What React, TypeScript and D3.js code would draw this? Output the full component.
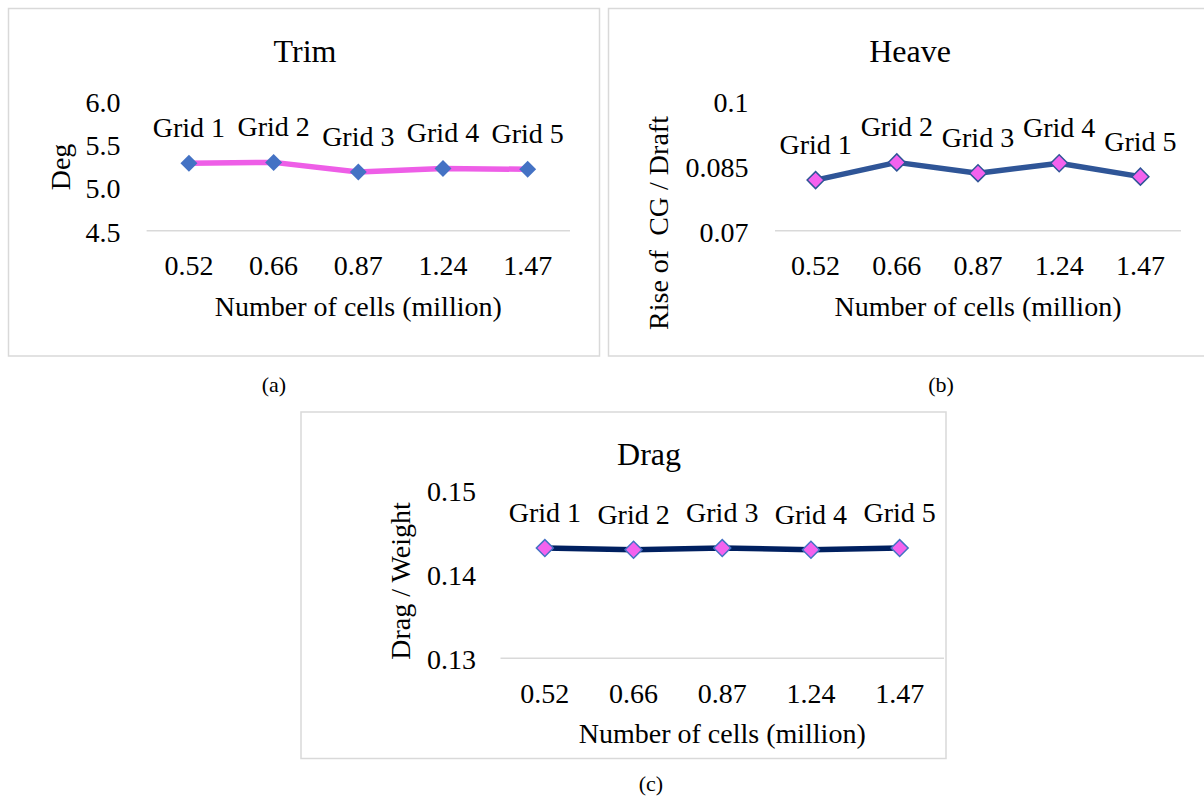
import React from "react";
import * as d3 from "d3";

// grid study values
const cells = ["0.52", "0.66", "0.87", "1.24", "1.47"];
const gridNames = ["Grid 1", "Grid 2", "Grid 3", "Grid 4", "Grid 5"];

const trimDeg = [5.28, 5.29, 5.18, 5.22, 5.21];
const heaveRise = [0.0817, 0.0858, 0.0833, 0.0856, 0.0825];
const dragWeight = [0.1431, 0.1429, 0.1431, 0.1429, 0.1431];

const trimTicks = [4.5, 5.0, 5.5, 6.0];
const heaveTicks = [0.07, 0.085, 0.1];
const dragTicks = [0.13, 0.14, 0.15];

const FONT = "'Liberation Serif', 'Times New Roman', serif";

type PanelProps = {
  box: [number, number, number, number];
  plot: { x0: number; x1: number; yTop: number; yBottom: number };
  domain: [number, number];
  ticks: number[];
  fmt: (v: number) => string;
  values: number[];
  title: string;
  titleX: number;
  titleY: number;
  yTitle: string;
  yTitleX: number;
  yTitleY: number;
  tickRight: number;
  xTickY: number;
  xTitleY: number;
  lineColor: string;
  markerFill: string;
  markerStroke: string;
};

const Panel = (p: PanelProps) => {
  const x = d3
    .scaleBand<string>()
    .domain(cells)
    .range([p.plot.x0, p.plot.x1]);
  const y = d3.scaleLinear().domain(p.domain).range([p.plot.yBottom, p.plot.yTop]);
  const cx = (i: number) => (x(cells[i]) as number) + x.bandwidth() / 2;

  const line = d3
    .line<number>()
    .x((_, i) => cx(i))
    .y((d) => y(d));

  const diamond = d3.symbol().type(d3.symbolSquare).size(144)();

  return (
    <g fontFamily={FONT} fill="#000">
      <rect
        x={p.box[0]}
        y={p.box[1]}
        width={p.box[2] - p.box[0]}
        height={p.box[3] - p.box[1]}
        fill="#fff"
        stroke="#d9d9d9"
        strokeWidth={1.5}
      />
      <text x={p.titleX} y={p.titleY} fontSize={32} textAnchor="middle">
        {p.title}
      </text>

      {/* horizontal axis line at the bottom of the value range */}
      <line
        x1={p.plot.x0}
        x2={p.plot.x1}
        y1={y(p.domain[0])}
        y2={y(p.domain[0])}
        stroke="#d9d9d9"
        strokeWidth={1.5}
      />

      {p.ticks.map((t) => (
        <text key={t} x={p.tickRight} y={y(t) + 11} fontSize={28} textAnchor="end">
          {p.fmt(t)}
        </text>
      ))}

      {cells.map((c, i) => (
        <text key={c} x={cx(i)} y={p.xTickY} fontSize={28} textAnchor="middle">
          {c}
        </text>
      ))}

      <text
        x={(p.plot.x0 + p.plot.x1) / 2}
        y={p.xTitleY}
        fontSize={28}
        textAnchor="middle"
      >
        Number of cells (million)
      </text>

      <text
        transform={`translate(${p.yTitleX},${p.yTitleY}) rotate(-90)`}
        fontSize={28}
        textAnchor="middle"
        style={{ whiteSpace: "pre" }}
      >
        {p.yTitle}
      </text>

      <path
        d={line(p.values) || ""}
        fill="none"
        stroke={p.lineColor}
        strokeWidth={5.5}
        strokeLinejoin="round"
      />

      {p.values.map((v, i) => (
        <path
          key={i}
          d={diamond || ""}
          transform={`translate(${cx(i)},${y(v)}) rotate(45)`}
          fill={p.markerFill}
          stroke={p.markerStroke}
          strokeWidth={p.markerStroke === "none" ? 0 : 1.5}
        />
      ))}

      {p.values.map((v, i) => (
        <text key={i} x={cx(i)} y={y(v) - 26} fontSize={28} textAnchor="middle">
          {gridNames[i]}
        </text>
      ))}
    </g>
  );
};

export default function App() {
  return (
    <svg
      width={1204}
      height={796}
      style={{ position: "absolute", left: 0, top: 0, background: "#fff" }}
    >
      <Panel
        box={[8.5, 8.5, 599.5, 356]}
        plot={{ x0: 146.6, x1: 570, yTop: 101, yBottom: 230.7 }}
        domain={[4.5, 6.0]}
        ticks={trimTicks}
        fmt={d3.format(".1f")}
        values={trimDeg}
        title="Trim"
        titleX={305}
        titleY={62}
        yTitle="Deg"
        yTitleX={70}
        yTitleY={167}
        tickRight={120.5}
        xTickY={275}
        xTitleY={316}
        lineColor="#ee5ee7"
        markerFill="#4472c4"
        markerStroke="none"
      />
      <Panel
        box={[608.5, 8.5, 1212, 356]}
        plot={{ x0: 775, x1: 1181, yTop: 101, yBottom: 230.7 }}
        domain={[0.07, 0.1]}
        ticks={heaveTicks}
        fmt={(v) => String(v)}
        values={heaveRise}
        title="Heave"
        titleX={910}
        titleY={62}
        yTitle="Rise of  CG / Draft"
        yTitleX={668}
        yTitleY={223}
        tickRight={748.5}
        xTickY={275}
        xTitleY={316}
        lineColor="#2f5597"
        markerFill="#f462ee"
        markerStroke="#2f5597"
      />
      <Panel
        box={[301, 412, 946, 758.5]}
        plot={{ x0: 500.5, x1: 944, yTop: 490, yBottom: 658.3 }}
        domain={[0.13, 0.15]}
        ticks={dragTicks}
        fmt={(v) => String(v)}
        values={dragWeight}
        title="Drag"
        titleX={649}
        titleY={465}
        yTitle="Drag / Weight"
        yTitleX={410}
        yTitleY={581}
        tickRight={476}
        xTickY={702.7}
        xTitleY={743}
        lineColor="#002060"
        markerFill="#f462ee"
        markerStroke="#4472c4"
      />
      <g fontFamily={FONT} fontSize={22} textAnchor="middle">
        <text x={274} y={392}>(a)</text>
        <text x={941} y={392}>(b)</text>
        <text x={651} y={791}>(c)</text>
      </g>
    </svg>
  );
}
